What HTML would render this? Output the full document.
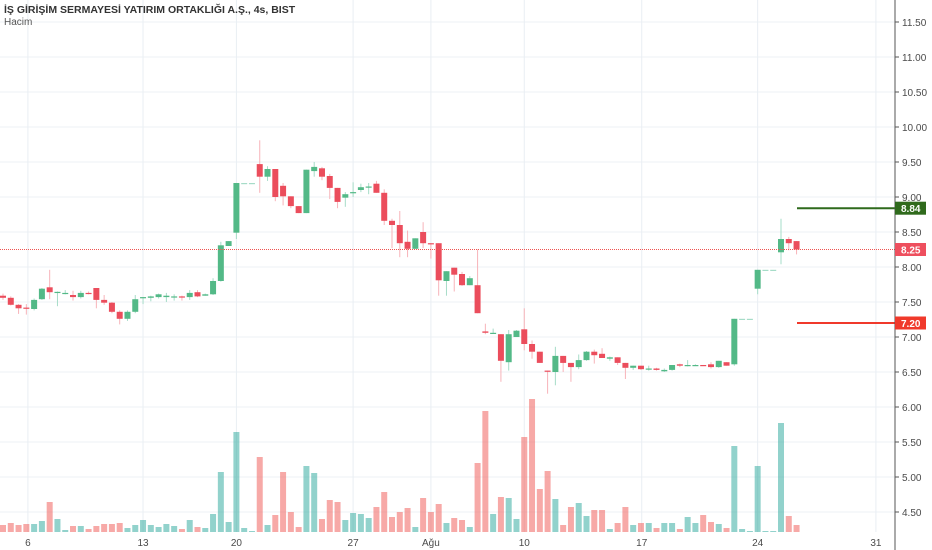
<!DOCTYPE html>
<html><head><meta charset="utf-8"><style>
body{margin:0;background:#fff;}
svg{display:block;font-family:"Liberation Sans",sans-serif;}
</style></head><body>
<svg id="c" width="932" height="550">
<g id="grid"></g><g id="vol"></g><g id="cand"></g><g id="axis"></g>
<text x="4" y="13" font-size="10.5" font-weight="bold" fill="#333">İŞ GİRİŞİM SERMAYESİ YATIRIM ORTAKLIĞI A.Ş., 4s, BIST</text>
<text x="4" y="25" font-size="10" fill="#555">Hacim</text>
</svg>
<script>
const opens=[7.59,7.56,7.46,7.42,7.40,7.54,7.71,7.64,7.62,7.60,7.57,7.63,7.70,7.53,7.49,7.36,7.26,7.36,7.56,7.56,7.57,7.57,7.57,7.58,7.57,7.64,7.59,7.61,7.80,8.30,8.49,9.20,9.20,9.47,9.29,9.40,9.16,9.01,8.87,8.77,9.37,9.41,9.30,9.13,8.99,9.06,9.10,9.14,9.19,9.06,8.66,8.60,8.36,8.26,8.50,8.34,8.34,7.80,7.99,7.90,7.74,7.74,7.08,7.06,7.04,6.64,7.00,7.11,6.90,6.79,6.52,6.50,6.73,6.63,6.57,6.67,6.79,6.76,6.69,6.71,6.63,6.56,6.59,6.54,6.55,6.51,6.53,6.61,6.59,6.60,6.60,6.61,6.57,6.64,6.61,7.26,7.26,7.69,7.96,7.96,8.21,8.40,8.37];
const highs=[7.62,7.58,7.47,7.47,7.55,7.70,7.96,7.65,7.67,7.66,7.66,7.65,7.70,7.60,7.50,7.38,7.38,7.60,7.57,7.59,7.62,7.63,7.61,7.59,7.67,7.67,7.62,7.84,8.36,8.37,9.20,9.20,9.20,9.81,9.44,9.40,9.20,9.01,8.87,9.39,9.50,9.43,9.33,9.13,9.07,9.21,9.19,9.20,9.23,9.11,8.69,8.80,8.52,8.41,8.64,8.34,8.34,7.94,7.99,7.93,7.87,8.25,7.19,7.12,7.04,7.10,7.10,7.41,6.95,6.79,6.52,6.86,6.73,6.63,6.75,6.80,6.82,6.84,6.72,6.71,6.63,6.59,6.59,6.59,6.56,6.55,6.60,6.62,6.67,6.61,6.60,6.64,6.66,6.64,7.26,7.26,7.26,7.96,7.96,7.96,8.69,8.43,8.37];
const lows=[7.53,7.45,7.33,7.32,7.38,7.53,7.54,7.44,7.61,7.52,7.55,7.61,7.41,7.46,7.34,7.18,7.23,7.34,7.47,7.51,7.55,7.50,7.52,7.52,7.53,7.57,7.59,7.60,7.79,8.30,8.40,9.20,9.20,9.06,9.23,8.94,8.88,8.84,8.77,8.77,9.29,9.24,8.97,8.84,8.86,9.00,9.07,9.04,9.06,8.60,8.27,8.14,8.14,8.26,8.27,8.12,7.59,7.59,7.65,7.73,7.74,7.34,7.04,7.05,6.36,6.52,7.00,6.81,6.69,6.63,6.19,6.31,6.50,6.36,6.54,6.66,6.62,6.70,6.66,6.60,6.40,6.53,6.53,6.52,6.52,6.50,6.52,6.57,6.58,6.59,6.59,6.55,6.56,6.59,6.59,7.26,7.26,7.61,7.96,7.96,8.04,8.24,8.18];
const closes=[7.56,7.46,7.41,7.41,7.53,7.69,7.64,7.645,7.63,7.57,7.63,7.62,7.53,7.49,7.36,7.26,7.36,7.54,7.57,7.58,7.61,7.59,7.58,7.57,7.63,7.58,7.61,7.80,8.31,8.37,9.20,9.20,9.20,9.29,9.40,9.00,9.01,8.87,8.77,9.39,9.43,9.29,9.13,8.93,9.04,9.07,9.14,9.15,9.06,8.66,8.60,8.34,8.26,8.41,8.34,8.33,7.81,7.94,7.89,7.74,7.84,7.34,7.06,7.06,6.66,7.04,7.09,6.90,6.79,6.63,6.51,6.73,6.63,6.57,6.67,6.79,6.74,6.70,6.71,6.63,6.56,6.59,6.54,6.55,6.53,6.53,6.60,6.59,6.60,6.60,6.59,6.57,6.66,6.59,7.26,7.26,7.26,7.96,7.96,7.96,8.40,8.34,8.25];
const volumes=[7,9,7,8,8,11,30,13,2,6,6,3,6,8,8,9,4,7,12,7,5,8,6,3,12,5,4,18,60,10,100,4,1,75,7,17,60,20,5,66,59,13,32,30,12,19,18,14,25,40,15,20,24,5,34,20,28,9,14,12,5,69,121,18,35,34,13,95,133,43,61,33,7,25,29,16,22,22,3,9,25,7,9,9,4,9,9,3,15,9,17,10,8,4,86,3,1,66,1,1,109,16,7];
const priceTicks=["4.50","5.00","5.50","6.00","6.50","7.00","7.50","8.00","8.50","9.00","9.50","10.00","10.50","11.00","11.50"];
const dateLabels=["6","13","20","27","Ağu","10","17","24","31"];
const dateIdx=[3.2,18,30,45,55,67,82.1,97,112.2];
const lastPrice=8.25, highLine=8.84, lowLine=7.20;

const NS="http://www.w3.org/2000/svg";
const yP=p=>267-(p-8)*70;
const xI=i=>3+i*7.78;
const yV=v=>532-v;
function mk(g,tag,at){const e=document.createElementNS(NS,tag);for(const k in at)e.setAttribute(k,at[k]);document.getElementById(g).appendChild(e);return e;}

priceTicks.forEach(t=>{const y=yP(+t);
 const l=mk('grid','line',{x1:0,x2:895,y1:y,y2:y,stroke:'#eef2f6','stroke-width':1});
 
 
 const tk=mk('axis','line',{x1:895,x2:899,y1:y,y2:y,stroke:'#555'});
 
 
 const tx=mk('axis','text',{x:902,y:y+4,'font-size':10,fill:'#4a4a4a'});tx.textContent=t;
 
 
});
dateLabels.forEach((d,k)=>{const x=xI(dateIdx[k]);
 const l=mk('grid','line',{x1:x,x2:x,y1:0,y2:532,stroke:'#e9eef3','stroke-width':1});
 
 
 const tx=mk('axis','text',{x:x,y:546,'font-size':10,fill:'#4a4a4a','text-anchor':'middle'});tx.textContent=d;
 
 
});
volumes.forEach((v,i)=>{const up=closes[i]>=opens[i];
 const r=mk('vol','rect',{x:xI(i)-3,y:yV(v),width:6,height:v,fill:up?'rgba(38,166,154,0.5)':'rgba(239,83,80,0.5)'});
 
 
});
opens.forEach((o,i)=>{const c=closes[i],up=c>=o,x=xI(i);
 const col=up?'#53b987':'#eb4d5c', wc=up?'#a6dcc8':'#f7b3b9';
 const w=mk('cand','line',{x1:x,x2:x,y1:yP(highs[i]),y2:yP(lows[i]),stroke:wc,'stroke-width':1});
 
 
 const t=Math.min(yP(o),yP(c)),h=Math.max(1.2,Math.abs(yP(o)-yP(c)));
 const b=mk('cand','rect',{x:x-3,y:t,width:6,height:h,fill:(o===c&&highs[i]===lows[i])?'#a6dcc8':col});
 
 
});
const ax=mk('axis','line',{x1:895,x2:895,y1:0,y2:550,stroke:'#555'});


function badge(p,color,name){const y=yP(p);
 const r=mk('axis','rect',{x:895,y:y-6.5,width:31,height:13,fill:color});
 
 
 const t=mk('axis','text',{x:901,y:y+4,'font-size':10,'font-weight':'bold',fill:'#fff'});t.textContent=p.toFixed(2);
 
 
}
const ll=mk('cand','line',{x1:0,x2:895,y1:yP(lastPrice),y2:yP(lastPrice),stroke:'#ef5350','stroke-width':1,'stroke-dasharray':'1,1'});


const hl=mk('cand','line',{x1:797,x2:895,y1:yP(highLine),y2:yP(highLine),stroke:'#2f6a1c','stroke-width':2});


const rl=mk('cand','line',{x1:797,x2:895,y1:yP(lowLine),y2:yP(lowLine),stroke:'#f0392b','stroke-width':2});


badge(highLine,'#2f6a1c','target-high');
badge(lastPrice,'#ee4f5e','last-price');
badge(lowLine,'#f0392b','stop-low');
</script>
</body></html>
